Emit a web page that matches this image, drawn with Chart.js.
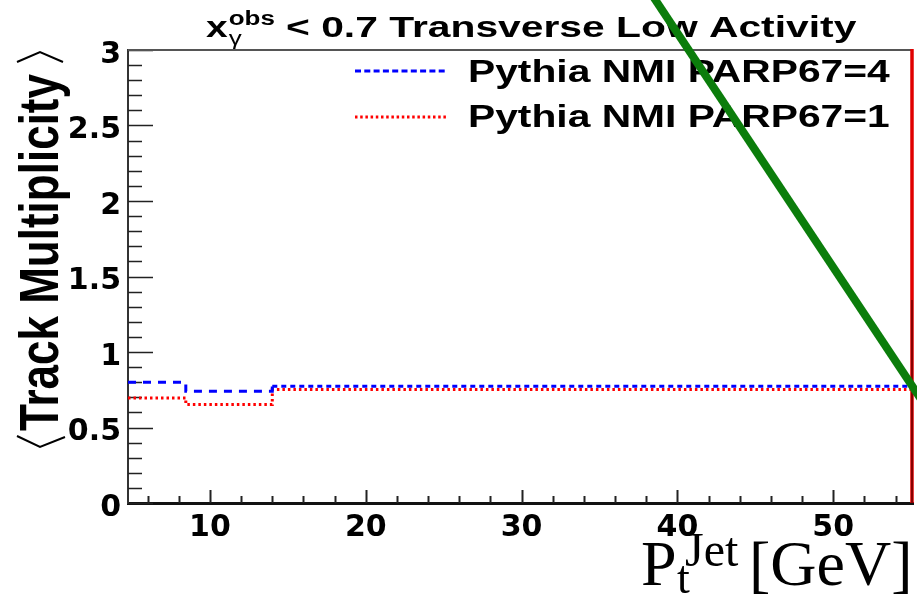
<!DOCTYPE html>
<html>
<head>
<meta charset="utf-8">
<script src="https://cdn.jsdelivr.net/npm/chart.js@4.4.1/dist/chart.umd.min.js"></script>
<style>
  html, body { margin: 0; padding: 0; background: #fff; }
  canvas { display: block; }
</style>
</head>
<body>
<canvas id="c" width="917" height="604"></canvas>
<script>
// ---- data ----
const binEdges = [4.74, 8.45, 14, 55.12];
const parp4Values = [0.80, 0.74, 0.773];   // Pythia NMI PARP67=4 (blue dashed)
const parp1Values = [0.696, 0.652, 0.751]; // Pythia NMI PARP67=1 (red dotted)
const seriesLabels = ['Pythia NMI PARP67=4', 'Pythia NMI PARP67=1'];
const xTickValues = [10, 20, 30, 40, 50];
const yTickValues = [0, 0.5, 1, 1.5, 2, 2.5, 3];
const yTickLabels = ['0', '0.5', '1', '1.5', '2', '2.5', '3'];
const overlayX = [37.5, 56.0];   // green overlay stroke (data coords)
const overlayY = [3.50, 0.63];

const X_MIN = 4.74, X_MAX = 55.12, Y_MIN = 0, Y_MAX = 3;

function histPoints(edges, vals) {
  const pts = vals.map((v, i) => ({x: edges[i], y: v}));
  pts.push({x: edges[edges.length - 1], y: vals[vals.length - 1]});
  return pts;
}

function sText(ctx, text, x, y, font, stretch, color) {
  ctx.save();
  ctx.font = font;
  ctx.fillStyle = color || '#000';
  ctx.textBaseline = 'alphabetic';
  ctx.textAlign = 'left';
  const w = ctx.measureText(text).width * stretch;
  ctx.translate(x, y);
  ctx.scale(stretch, 1);
  ctx.fillText(text, 0, 0);
  ctx.restore();
  return w;
}

const decorPlugin = {
  id: 'decor',
  beforeDatasetsDraw(chart) {
    const ctx = chart.ctx;
    const a = chart.chartArea;
    const xs = chart.scales.x, ys = chart.scales.y;
    ctx.save();
    // inside ticks x
    ctx.strokeStyle = '#222';
    ctx.lineWidth = 2;
    ctx.beginPath();
    for (let v = 6; v <= 54; v += 2) {
      const px = Math.round(xs.getPixelForValue(v)) + 0.5;
      const len = (v % 10 === 0) ? 13 : 7;
      ctx.moveTo(px, a.bottom);
      ctx.lineTo(px, a.bottom - len);
    }
    ctx.stroke();
    // inside ticks y
    ctx.lineWidth = 1.5;
    ctx.beginPath();
    for (let i = 0; i <= 30; i++) {
      const v = i / 10;
      const py = Math.round(ys.getPixelForValue(v)) + 0.5;
      const len = (i % 5 === 0) ? 25 : 14;
      ctx.moveTo(a.left, py);
      ctx.lineTo(a.left + len, py);
    }
    ctx.stroke();
    // top frame
    ctx.strokeStyle = '#555';
    ctx.lineWidth = 2;
    ctx.beginPath();
    ctx.moveTo(a.left, a.top);
    ctx.lineTo(a.right, a.top);
    ctx.stroke();
    // right frame (red)
    ctx.strokeStyle = '#e00000';
    ctx.lineWidth = 3.5;
    ctx.beginPath();
    ctx.moveTo(a.right - 1, a.top - 1);
    ctx.lineTo(a.right - 1, a.bottom);
    ctx.stroke();
    ctx.strokeStyle = '#300';
    ctx.lineWidth = 1;
    ctx.beginPath();
    ctx.moveTo(a.right - 1, 300);
    ctx.lineTo(a.right - 1, a.bottom);
    ctx.stroke();

    // title
    const bold30 = 'bold 30px "Liberation Sans", Arial, sans-serif';
    const x0 = 206;
    const wx = sText(ctx, 'x', x0, 37, bold30, 1.3);
    sText(ctx, 'obs', x0 + wx + 1, 25, 'bold 20px "Liberation Sans", Arial, sans-serif', 1.3);
    sText(ctx, 'γ', x0 + wx + 1, 45, '20px "Liberation Sans", Arial, sans-serif', 1.3);
    sText(ctx, '< 0.7 Transverse Low Activity', 286, 37, bold30, 1.36);

    // legend
    const bold31 = 'bold 31px "Liberation Sans", Arial, sans-serif';
    sText(ctx, seriesLabels[0], 468, 82, bold31, 1.315);
    sText(ctx, seriesLabels[1], 468, 127, bold31, 1.315);
    ctx.lineWidth = 3;
    ctx.strokeStyle = '#0000ff';
    ctx.setLineDash([6, 3.3]);
    ctx.beginPath(); ctx.moveTo(355, 71); ctx.lineTo(448, 71); ctx.stroke();
    ctx.strokeStyle = '#ff0000';
    ctx.setLineDash([2.5, 2.7]);
    ctx.beginPath(); ctx.moveTo(355, 117); ctx.lineTo(446, 117); ctx.stroke();
    ctx.setLineDash([]);

    // y-axis title
    ctx.save();
    ctx.translate(58, 431);
    ctx.rotate(-Math.PI / 2);
    ctx.scale(1, 1.28);
    ctx.font = 'bold 44px "Liberation Sans", Arial, sans-serif';
    ctx.fillStyle = '#000';
    ctx.textBaseline = 'alphabetic';
    ctx.fillText('Track Multiplicity', 0, 0);
    ctx.restore();
    // angle brackets
    ctx.strokeStyle = '#000';
    ctx.lineWidth = 2;
    ctx.beginPath();
    ctx.moveTo(17, 436); ctx.lineTo(40, 447); ctx.lineTo(65, 437);
    ctx.moveTo(17, 62); ctx.lineTo(40, 52); ctx.lineTo(63, 62);
    ctx.stroke();

    // x-axis title (serif)
    ctx.fillStyle = '#000';
    ctx.textBaseline = 'alphabetic';
    ctx.font = '64px "Liberation Serif", "Times New Roman", serif';
    ctx.fillText('P', 641, 585);
    ctx.font = '46px "Liberation Serif", "Times New Roman", serif';
    ctx.fillText('t', 677, 593);
    ctx.font = '48px "Liberation Serif", "Times New Roman", serif';
    ctx.fillText('Jet', 685, 566);
    ctx.font = '64px "Liberation Serif", "Times New Roman", serif';
    ctx.fillText('[GeV]', 749, 585);
    ctx.restore();
  }
};

const tickFont = {family: '"DejaVu Sans", sans-serif', weight: 'bold', size: 30};

new Chart(document.getElementById('c'), {
  type: 'line',
  data: {
    datasets: [
      {
        label: 'overlay',
        data: overlayX.map((x, i) => ({x, y: overlayY[i]})),
        borderColor: '#0b7d0b',
        borderWidth: 8,
        pointRadius: 0,
        clip: false,
        order: 0
      },
      {
        label: seriesLabels[0],
        data: histPoints(binEdges, parp4Values),
        borderColor: '#0000ff',
        borderWidth: 3,
        stepped: true,
        pointRadius: 0,
        borderDash: [8, 6],
        segment: { borderDash: c => (c.p0DataIndex >= 2 ? [5, 4] : [8, 7]) },
        order: 1
      },
      {
        label: seriesLabels[1],
        data: histPoints(binEdges, parp1Values),
        borderColor: '#ff0000',
        borderWidth: 3,
        stepped: true,
        pointRadius: 0,
        borderDash: [2.5, 3],
        order: 2
      }
    ]
  },
  options: {
    responsive: false,
    animation: false,
    layout: { padding: { top: 50, right: 4, left: 0, bottom: 0 } },
    plugins: { legend: { display: false }, tooltip: { enabled: false }, title: { display: false } },
    scales: {
      x: {
        type: 'linear', min: X_MIN, max: X_MAX,
        grid: { display: false, drawTicks: false },
        border: { display: true, color: '#111', width: 3 },
        afterBuildTicks: s => { s.ticks = xTickValues.map(v => ({value: v})); },
        ticks: { font: tickFont, color: '#000', padding: 7, maxRotation: 0, autoSkip: false,
                 callback: v => String(v) },
        afterFit: s => { s.height = 101; }
      },
      y: {
        type: 'linear', min: Y_MIN, max: Y_MAX,
        grid: { display: false, drawTicks: false },
        border: { display: true, color: '#333', width: 2 },
        afterBuildTicks: s => { s.ticks = yTickValues.map(v => ({value: v})); },
        ticks: { font: tickFont, color: '#000', padding: 7, labelOffset: 5, autoSkip: false,
                 callback: v => yTickLabels[yTickValues.indexOf(v)] ?? String(v) },
        afterFit: s => { s.width = 128; }
      }
    }
  },
  plugins: [decorPlugin]
});
</script>
</body>
</html>
